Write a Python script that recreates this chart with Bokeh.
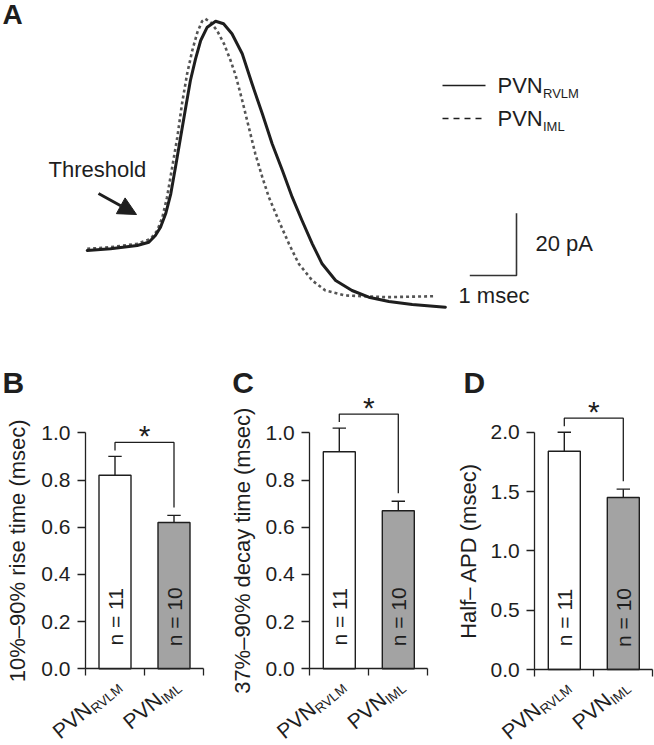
import math
from bokeh.plotting import figure
from bokeh.models import Range1d, Label, Arrow, NormalHead, FixedTicker, PrintfTickFormatter, ColumnDataSource
from bokeh.layouts import column, row
from bokeh.embed import file_html
from bokeh.resources import INLINE

FONT = "Liberation Sans"
INK = "#1e1e1e"

# ---------------- Panel A data: averaged action-potential traces ----------------
# time (msec) and current (pA), baseline at the start of the trace
t_rvlm = [0.00, 0.50, 1.07, 1.32, 1.46, 1.57, 1.68, 1.79, 1.89, 2.00, 2.11, 2.21, 2.32,
          2.43, 2.57, 2.75, 2.92, 3.10, 3.32, 3.53, 3.75, 3.96, 4.18, 4.39, 4.60, 4.82,
          5.03, 5.32, 5.67, 6.03, 6.46, 6.96, 7.67]
i_rvlm = [0.00, 0.55, 1.61, 2.66, 4.82, 7.48, 11.78, 18.20, 26.74, 36.37, 46.00, 54.57,
          61.54, 67.42, 71.69, 73.61, 72.78, 69.57, 63.15, 53.51, 43.88, 34.25, 25.68,
          17.11, 9.63, 2.15, -4.27, -9.63, -12.84, -14.99, -16.37, -17.34, -18.20]
t_iml = [0.00, 0.50, 1.07, 1.36, 1.50, 1.61, 1.71, 1.82, 1.93, 2.03, 2.14, 2.25, 2.36,
         2.46, 2.53, 2.64, 2.78, 2.93, 3.07, 3.18, 3.32, 3.46, 3.60, 3.75, 3.89, 4.10,
         4.32, 4.53, 4.82, 5.10, 5.53, 6.39, 7.46]
i_iml = [0.55, 1.06, 2.15, 3.76, 6.42, 10.69, 17.11, 26.74, 36.37, 47.09, 56.72, 64.21,
         70.08, 73.61, 74.38, 73.29, 70.63, 66.35, 61.00, 56.18, 48.15, 39.58, 31.04,
         23.53, 17.11, 9.63, 2.15, -4.27, -9.63, -12.84, -14.45, -14.99, -14.67]
scale_t = 1.0    # msec
scale_i = 20.0   # pA

# ---------------- Panels B-D data ----------------
group_main = ["PVN", "PVN"]
group_sub = ["RVLM", "IML"]
n_labels = ["n = 11", "n = 10"]
rise_mean = [0.82, 0.62]
rise_sem = [0.08, 0.03]
decay_mean = [0.92, 0.67]
decay_sem = [0.10, 0.04]
apd_mean = [1.84, 1.45]
apd_sem = [0.16, 0.07]
ticks_unit = [0.0, 0.2, 0.4, 0.6, 0.8, 1.0]
ticks_apd = [0.0, 0.5, 1.0, 1.5, 2.0]

# ================= Panel A =================
A_W, A_H = 654, 335
PX_MS, PX_PA = 46.7, 3.115
ORIG_X, ORIG_Y = 86.7, 250.0   # pixel position of trace start


def ax(px):
    return (px - ORIG_X) / PX_MS


def ay(py):
    return (ORIG_Y - py) / PX_PA


pA = figure(width=A_W, height=A_H, x_range=Range1d(ax(0), ax(A_W)),
            y_range=Range1d(ay(A_H), ay(0)), min_border=0,
            output_backend="svg", toolbar_location=None,
            x_axis_location=None, y_axis_location=None)
pA.outline_line_color = None
pA.grid.visible = False

pA.line(t_iml, i_iml, line_width=2.6, line_color="#555555", line_dash="3 3")
pA.line(t_rvlm, i_rvlm, line_width=3, line_color=INK, line_join="round", line_cap="round")

# scale bar
sb_t, sb_i = ax(516), ay(275)
pA.line([sb_t - scale_t, sb_t, sb_t], [sb_i, sb_i, sb_i + scale_i], line_color="#333333", line_width=1.6)


def alab(p, text, px, py, size="22px", style="normal", align="left"):
    p.add_layout(Label(x=ax(px), y=ay(py), text=text, text_font=FONT, text_font_size=size,
                       text_font_style=style, text_color=INK, text_align=align,
                       text_baseline="middle"))


alab(pA, "20 pA", 535, 243)
alab(pA, "1 msec", 458, 295)
alab(pA, "Threshold", 48, 169)
alab(pA, "A", 2, 14, size="28px", style="bold")

# legend
pA.line([ax(442), ax(485)], [ay(85), ay(85)], line_color=INK, line_width=1.5)
pA.line([ax(442), ax(485)], [ay(118), ay(118)], line_color=INK, line_width=1.5, line_dash="6 5")
alab(pA, group_main[0], 497, 85)
alab(pA, group_sub[0], 542.5, 93, size="13px")
alab(pA, group_main[1], 497, 118)
alab(pA, group_sub[1], 542.5, 126, size="13px")

# threshold arrow
pA.add_layout(Arrow(end=NormalHead(size=18, fill_color=INK, line_color=INK),
                    x_start=ax(98), y_start=ay(193), x_end=ax(136), y_end=ay(214),
                    line_width=3, line_color=INK))

# ================= Panels B-D =================
ROW_TOP, ROW_H = 335, 410
SUB_W = {"R": 0.722, "V": 0.667, "L": 0.556, "M": 0.833, "I": 0.278}


def bar_panel(letter, title, means, sems, ticks, fig_x0, fig_w, axis_x, axis_y, ppx, ppu,
              letter_x, title_x):
    def dx(px):
        return (px - axis_x) / ppx

    def dy(py):
        return (axis_y - py) / ppu

    p = figure(width=fig_w, height=ROW_H,
               x_range=Range1d(dx(fig_x0), dx(fig_x0 + fig_w)),
               y_range=Range1d(dy(ROW_TOP + ROW_H), dy(ROW_TOP)),
               min_border=0, output_backend="svg", toolbar_location=None)
    p.outline_line_color = None
    p.grid.visible = False

    for axis in (p.xaxis[0], p.yaxis[0]):
        axis.fixed_location = 0
        axis.axis_line_color = "#222222"
        axis.axis_line_width = 1.3
        axis.major_tick_line_color = "#222222"
        axis.major_tick_line_width = 1.3
        axis.major_tick_in = 0
        axis.minor_tick_in = 0
        axis.minor_tick_out = 0
    p.xaxis.ticker = FixedTicker(ticks=[0, 1, 2])
    p.xaxis.bounds = (0, 2)
    p.xaxis.major_tick_out = 7
    p.xaxis.major_label_overrides = {0: "", 1: "", 2: ""}
    p.yaxis.ticker = FixedTicker(ticks=ticks)
    p.yaxis.bounds = (ticks[0], ticks[-1])
    p.yaxis.major_tick_out = 8
    p.yaxis.formatter = PrintfTickFormatter(format="%.1f")
    p.yaxis.major_label_text_font = FONT
    p.yaxis.major_label_text_font_size = "21px"
    p.yaxis.major_label_text_color = INK
    p.yaxis.major_label_standoff = 7

    xs = [0.5, 1.5]
    tops = [m + s for m, s in zip(means, sems)]
    src = ColumnDataSource(dict(x=xs, top=means, err=tops, fill=["white", "#a3a3a3"],
                                c0=[x - 6.7 / ppx for x in xs], c1=[x + 6.7 / ppx for x in xs]))
    p.vbar(x="x", top="top", width=32 / ppx, source=src, fill_color="fill",
           line_color=INK, line_width=1.4)
    p.segment(x0="x", y0="top", x1="x", y1="err", source=src, line_color=INK, line_width=1.4)
    p.segment(x0="c0", y0="err", x1="c1", y1="err", source=src, line_color=INK, line_width=1.4)

    # significance bracket
    ybr = max(tops) + 14 / ppu
    p.line([xs[0], xs[0], xs[1], xs[1]], [tops[0] + 6 / ppu, ybr, ybr, tops[1] + 8 / ppu],
           line_color=INK, line_width=1.3)
    p.add_layout(Label(x=1.0, y=ybr + 11.5 / ppu, y_offset=-5, text="*", text_font=FONT,
                       text_font_size="30px", text_color=INK, text_align="center",
                       text_baseline="middle"))

    # n labels inside bars
    for x, lab in zip(xs, n_labels):
        p.add_layout(Label(x=x, y=52 / ppu, text=lab, angle=math.pi / 2, text_font=FONT,
                           text_font_size="21px", text_color=INK, text_align="center",
                           text_baseline="middle"))

    # rotated category labels with subscripts (baseline "middle" anchors)
    th = math.radians(40)
    s, c = math.sin(th), math.cos(th)
    for x, mn, sb in zip(xs, group_main, group_sub):
        w_sub = 13.5 * sum(SUB_W[ch] for ch in sb)
        ex, ey = 7, -19
        p.add_layout(Label(x=x, y=0, x_offset=ex - w_sub * c - 7.3 * s,
                           y_offset=ey - w_sub * s + 7.3 * c, text=mn, angle=th,
                           text_font=FONT, text_font_size="21px", text_color=INK,
                           text_align="right", text_baseline="middle"))
        p.add_layout(Label(x=x, y=0, x_offset=ex - 1.5 * s, y_offset=ey + 1.5 * c,
                           text=sb, angle=th, text_font=FONT, text_font_size="13.5px",
                           text_color=INK, text_align="right", text_baseline="middle"))

    # axis title
    p.add_layout(Label(x=dx(title_x), y=ticks[-1] / 2, text=title, angle=math.pi / 2,
                       text_font=FONT, text_font_size="22px", text_color=INK,
                       text_align="center", text_baseline="middle"))
    # panel letter
    p.add_layout(Label(x=dx(letter_x), y=dy(381.5), text=letter, text_font=FONT,
                       text_font_size="30px", text_font_style="bold", text_color=INK,
                       text_baseline="middle"))
    return p


pB = bar_panel("B", "10%\u201390% rise time (msec)", rise_mean, rise_sem, ticks_unit,
               0, 225, 85.0, 668.3, 59.0, 236.0, 2, 17)
pC = bar_panel("C", "37%\u201390% decay time (msec)", decay_mean, decay_sem, ticks_unit,
               225, 219, 309.3, 668.3, 59.0, 236.0, 231.7, 241.7)
pD = bar_panel("D", "Half\u2013 APD (msec)", apd_mean, apd_sem, ticks_apd,
               444, 210, 534.3, 669.0, 59.0, 118.65, 463, 468)

layout = column(pA, row(pB, pC, pD))
open("out.html", "w").write(file_html(layout, INLINE))
